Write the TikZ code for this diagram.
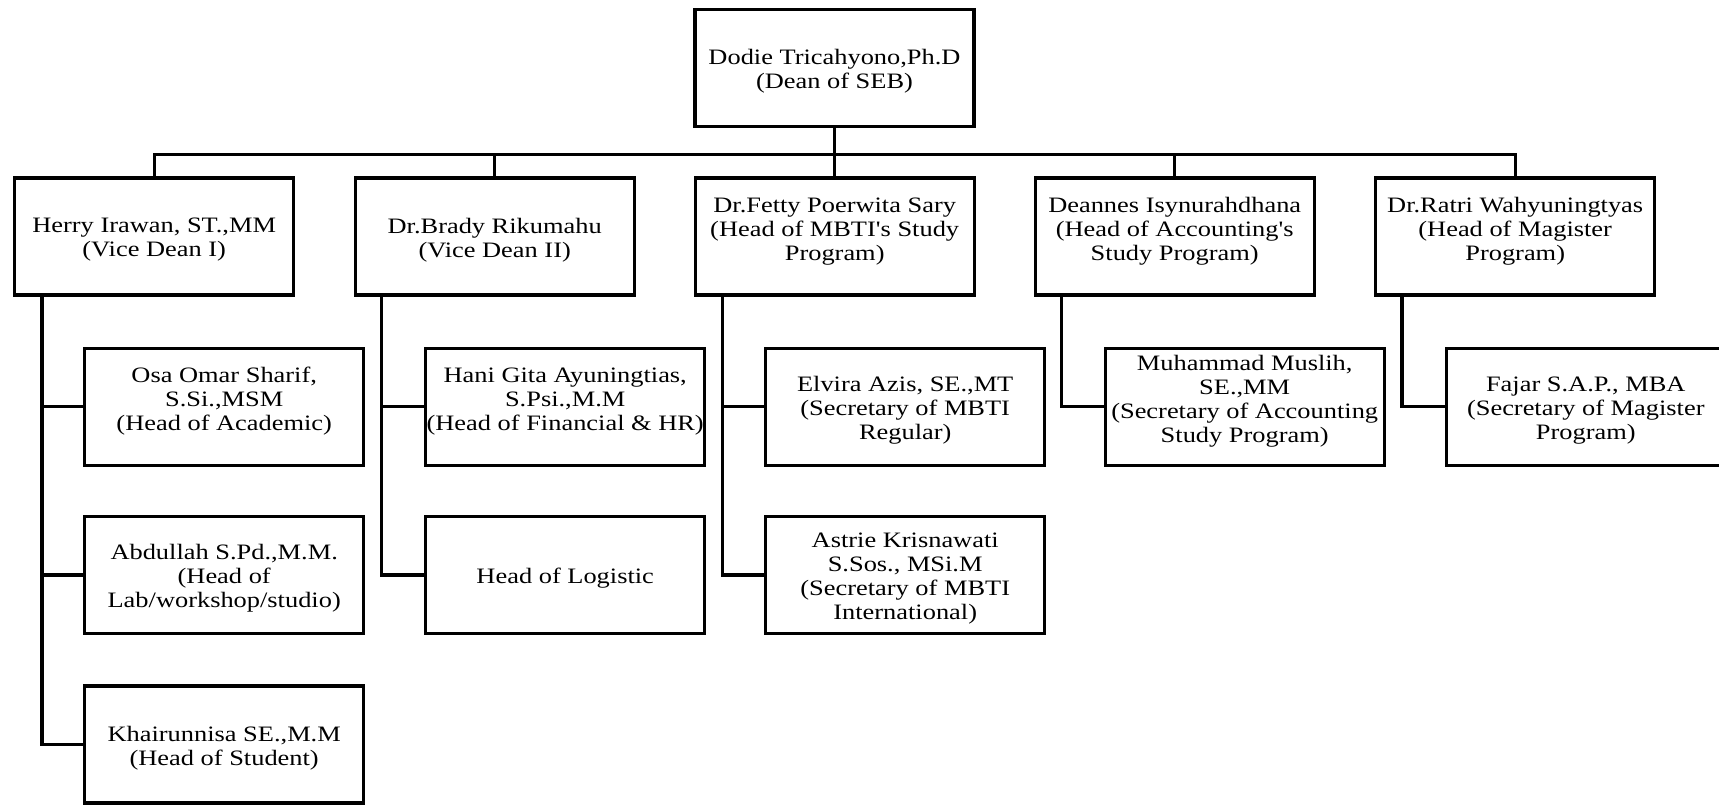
\documentclass[tikz,border=0pt]{standalone}
\usepackage{fontspec}
\newfontfamily\orgfont{Liberation Serif}[FakeStretch=1.2]
\begin{document}
\begin{tikzpicture}[x=0.5pt,y=-0.5pt,
  box/.style={draw=black,line width=1.7pt,rectangle,minimum width=139.5pt,minimum height=58.5pt,inner sep=0pt},
  txt/.style={inner sep=0pt,align=center,font=\orgfont\fontsize{11pt}{12pt}\selectfont},
  conn/.style={draw=black,line width=1.7pt,line join=miter,line cap=butt}]
\useasboundingbox (0,0) rectangle (1719,811);
\newcommand\orgbox[4]{%
  \node[box] (#1) at (#2) {};
  \node[txt] (#1-t) at ([yshift=#3]#1.center) {#4};}
% top
\orgbox{dean}{834.5,67.8}{-1.75pt}{Dodie Tricahyono,Ph.D\\(Dean of SEB)}
% level 1
\orgbox{herry}{154.2,236.5}{-1.75pt}{Herry Irawan, ST.,MM\\(Vice Dean I)}
\orgbox{brady}{494.7,236.5}{-1.75pt}{Dr.Brady Rikumahu\\(Vice Dean II)}
\orgbox{fetty}{834.7,236.5}{2.7pt}{Dr.Fetty Poerwita Sary\\(Head of MBTI's Study\\Program)}
\orgbox{deannes}{1174.7,236.5}{2.7pt}{Deannes Isynurahdhana\\(Head of Accounting's\\Study Program)}
\orgbox{ratri}{1515.2,236.5}{2.7pt}{Dr.Ratri Wahyuningtyas\\(Head of Magister\\Program)}
% level 2
\orgbox{osa}{224.2,406.7}{2.7pt}{Osa Omar Sharif,\\S.Si.,MSM\\(Head of Academic)}
\orgbox{hani}{565.2,406.7}{2.7pt}{Hani Gita Ayuningtias,\\S.Psi.,M.M\\(Head of Financial \& HR)}
\orgbox{elvira}{905.2,406.7}{-1.75pt}{Elvira Azis, SE.,MT\\(Secretary of MBTI\\Regular)}
\orgbox{muslih}{1244.7,406.7}{2.7pt}{Muhammad Muslih,\\SE.,MM\\(Secretary of Accounting\\Study Program)}
\orgbox{fajar}{1585.8,406.7}{-1.75pt}{Fajar S.A.P., MBA\\(Secretary of Magister\\Program)}
% level 3
\orgbox{abdullah}{224.2,575}{-1.75pt}{Abdullah S.Pd.,M.M.\\(Head of\\Lab/workshop/studio)}
\orgbox{logistic}{565.2,575}{-1.75pt}{Head of Logistic}
\orgbox{astrie}{905.2,575}{-1.75pt}{Astrie Krisnawati\\S.Sos., MSi.M\\(Secretary of MBTI\\International)}
% level 4
\orgbox{khair}{224.2,744.5}{-1.75pt}{Khairunnisa SE.,M.M\\(Head of Student)}
% helper coordinates
\coordinate (bus) at (0,154.3);
\coordinate (t1) at (41.8,0);
\coordinate (t2) at (381.6,0);
\coordinate (t3) at (722.5,0);
\coordinate (t4) at (1061.5,0);
\coordinate (t5) at (1402,0);
% top connectors
\draw[conn] (dean.south) -- (dean.south |- bus);
\draw[conn] (herry.north) -- (herry.north |- bus) -- (ratri.north |- bus) -- (ratri.north);
\draw[conn] (brady.north) -- (brady.north |- bus);
\draw[conn] (fetty.north) -- (fetty.north |- bus);
\draw[conn] (deannes.north) -- (deannes.north |- bus);
% trunks
\draw[conn] (herry.south -| t1) |- (khair.west);
\draw[conn] (t1 |- osa.west) -- (osa.west);
\draw[conn] (t1 |- abdullah.west) -- (abdullah.west);
\draw[conn] (brady.south -| t2) |- (logistic.west);
\draw[conn] (t2 |- hani.west) -- (hani.west);
\draw[conn] (fetty.south -| t3) |- (astrie.west);
\draw[conn] (t3 |- elvira.west) -- (elvira.west);
\draw[conn] (deannes.south -| t4) |- (muslih.west);
\draw[conn] (ratri.south -| t5) |- (fajar.west);
\end{tikzpicture}
\end{document}
